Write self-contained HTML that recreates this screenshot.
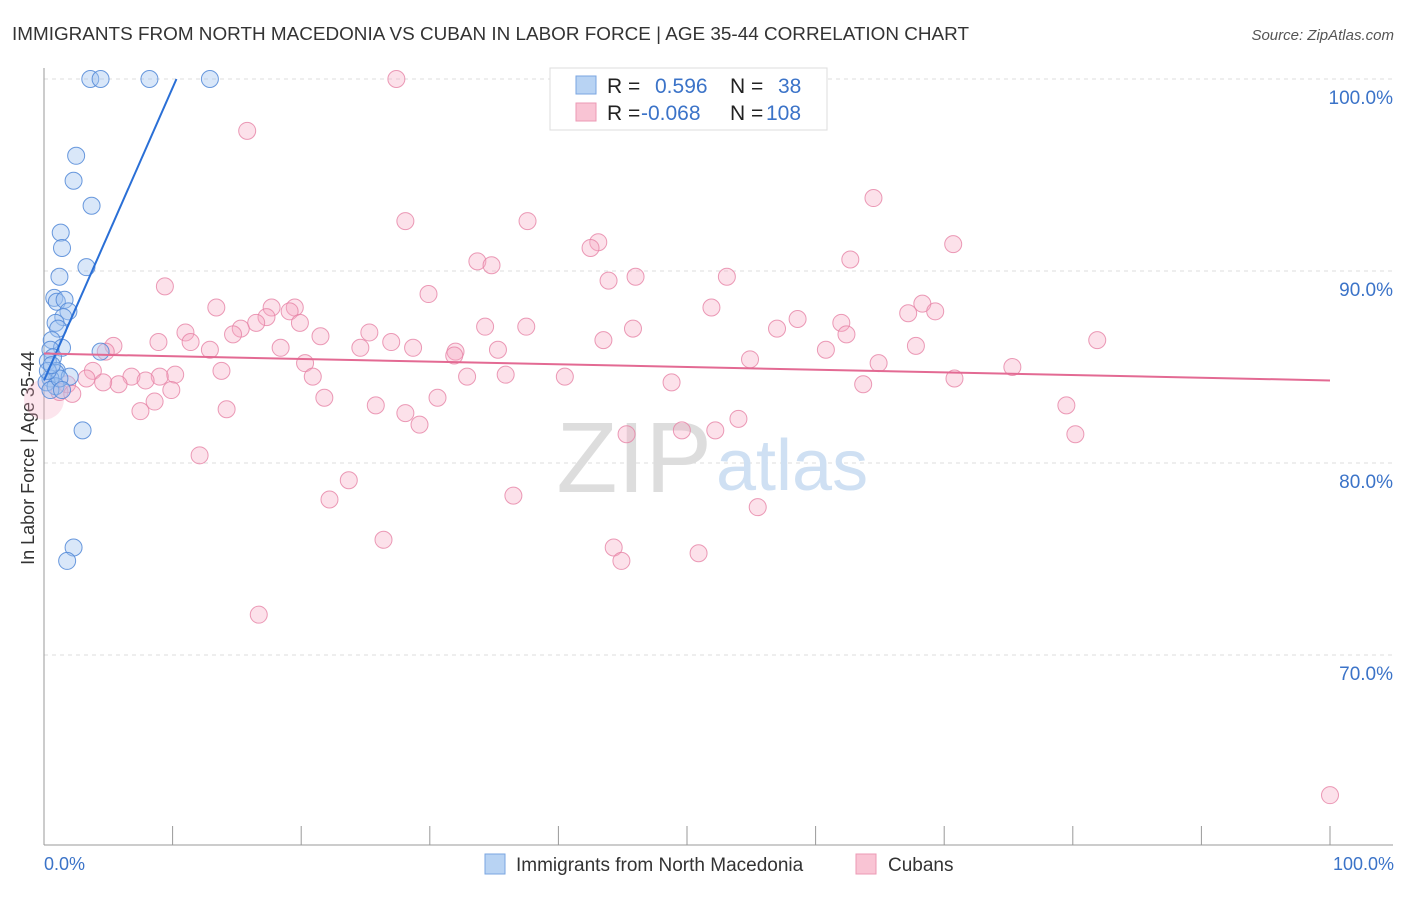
<!DOCTYPE html>
<html><head><meta charset="utf-8"><style>
body{margin:0;background:#fff;font-family:"Liberation Sans",sans-serif;}
svg text{font-family:"Liberation Sans",sans-serif;}
</style></head><body>
<svg id="chart" width="1406" height="892" viewBox="0 0 1406 892">
<text x="12" y="40" font-size="18.5" fill="#333" textLength="957" lengthAdjust="spacingAndGlyphs">IMMIGRANTS FROM NORTH MACEDONIA VS CUBAN IN LABOR FORCE | AGE 35-44 CORRELATION CHART</text>
<text x="1394" y="40" font-size="15" fill="#555" font-style="italic" text-anchor="end">Source: ZipAtlas.com</text>
<g id="grid"></g>
<text x="712" y="492" font-size="100" fill="#ddd" text-anchor="end" font-family="Liberation Serif">ZIP</text>
<text x="716" y="490" font-size="72" fill="#cfe0f3">atlas</text>
<text x="34" y="458" font-size="18" fill="#333" text-anchor="middle" transform="rotate(-90 34 458)">In Labor Force | Age 35-44</text>
<g id="pts"></g>
<g id="lines"></g>
<g>
<rect x="550" y="68" width="277" height="62" fill="#fff" stroke="#ddd"/>
<rect x="576" y="76" width="20" height="18" fill="#b8d3f3" stroke="#7aa6e0"/>
<rect x="576" y="103" width="20" height="18" fill="#f9c4d4" stroke="#ec9ab5"/>
<text x="607" y="93" font-size="21" fill="#222">R =</text>
<text x="655" y="93" font-size="21" fill="#3b73c8">0.596</text>
<text x="730" y="93" font-size="21" fill="#222">N =</text>
<text x="778" y="93" font-size="21" fill="#3b73c8">38</text>
<text x="607" y="120" font-size="21" fill="#222">R =</text>
<text x="641" y="120" font-size="21" fill="#3b73c8">-0.068</text>
<text x="730" y="120" font-size="21" fill="#222">N =</text>
<text x="766" y="120" font-size="21" fill="#3b73c8">108</text>
</g>
<g>
<rect x="485" y="854" width="20" height="20" fill="#b8d3f3" stroke="#7aa6e0"/>
<text x="516" y="871" font-size="19" fill="#333">Immigrants from North Macedonia</text>
<rect x="856" y="854" width="20" height="20" fill="#f9c4d4" stroke="#ec9ab5"/>
<text x="888" y="871" font-size="19" fill="#333">Cubans</text>
</g>
<text x="44" y="870" font-size="18" fill="#3b73c8">0.0%</text>
<text x="1394" y="870" font-size="18" fill="#3b73c8" text-anchor="end">100.0%</text>
</svg>
<script>
const yTicks=[100,90,80,70];
const yTickLabels=["100.0%","90.0%","80.0%","70.0%"];
const xTicks=[0,10,20,30,40,50,60,70,80,90,100];
const blueX=[3.6,4.4,8.2,12.9,2.5,2.3,3.7,1.3,1.4,3.3,1.2,0.8,1.0,1.6,1.9,1.5,0.9,1.1,0.6,4.4,1.4,0.5,0.7,0.3,1.0,0.9,2.0,0.5,0.2,0.9,0.5,2.3,1.8,3.0,1.2,0.3,0.6,1.4];
const blueY=[100,100,100,100,96.0,94.7,93.4,92.0,91.2,90.2,89.7,88.6,88.4,88.5,87.9,87.6,87.3,87.0,86.4,85.8,86.0,85.9,85.5,85.3,84.8,84.7,84.5,84.4,84.2,84.0,83.8,75.6,74.9,81.7,84.4,84.8,85.1,83.8];
const pinkX=[27.4,15.8,64.5,28.1,37.6,43.1,42.5,70.7,33.7,34.8,62.7,53.1,46.0,43.9,9.4,29.9,51.9,13.4,68.3,67.2,69.3,17.7,19.5,19.1,17.3,16.5,58.6,62.0,19.9,34.3,37.5,57.0,45.8,11.0,15.3,14.7,25.3,21.5,62.4,81.9,43.5,8.9,11.4,27.0,5.4,12.9,18.4,24.6,28.7,35.3,60.8,67.8,32.0,4.8,31.9,54.9,20.3,64.9,75.3,13.8,3.8,10.2,35.9,40.5,32.9,20.9,9.0,6.8,5.8,7.9,3.3,4.6,1.8,1.2,2.2,9.9,63.7,70.8,48.8,21.8,30.6,8.6,7.5,14.2,25.8,79.5,28.1,29.2,54.0,45.3,49.6,52.2,80.2,12.1,23.7,36.5,22.2,55.5,26.4,44.3,44.9,50.9,16.7,100];
const pinkY=[100,97.3,93.8,92.6,92.6,91.5,91.2,91.4,90.5,90.3,90.6,89.7,89.7,89.5,89.2,88.8,88.1,88.1,88.3,87.8,87.9,88.1,88.1,87.9,87.6,87.3,87.5,87.3,87.3,87.1,87.1,87.0,87.0,86.8,87.0,86.7,86.8,86.6,86.7,86.4,86.4,86.3,86.3,86.3,86.1,85.9,86.0,86.0,86.0,85.9,85.9,86.1,85.8,85.8,85.6,85.4,85.2,85.2,85.0,84.8,84.8,84.6,84.6,84.5,84.5,84.5,84.5,84.5,84.1,84.3,84.4,84.2,84.1,83.7,83.6,83.8,84.1,84.4,84.2,83.4,83.4,83.2,82.7,82.8,83.0,83.0,82.6,82.0,82.3,81.5,81.7,81.7,81.5,80.4,79.1,78.3,78.1,77.7,76.0,75.6,74.9,75.3,72.1,62.7];
const blueTrend=[[0,84.3],[10.3,100]];
const pinkTrend=[[0,85.7],[100,84.3]];
const NS="http://www.w3.org/2000/svg";
const sx=v=>44+v*12.86, sy=v=>79+(100-v)*19.2;
function mk(t,a,p){const e=document.createElementNS(NS,t);for(const k in a)e.setAttribute(k,a[k]);p.appendChild(e);return e;}
const grid=document.getElementById('grid');
yTicks.forEach((t,i)=>{
 const l=mk('line',{x1:44,x2:1393,y1:sy(t),y2:sy(t),stroke:'#ddd','stroke-dasharray':'4,4'},grid);
 
 
 const tx=mk('text',{x:1393,y:sy(t)+25,'font-size':19,fill:'#3b73c8','text-anchor':'end'},grid);
 tx.textContent=yTickLabels[i];
 
 
});
const ax=mk('line',{x1:44,x2:44,y1:68,y2:845,stroke:'#999'},grid);


const bx=mk('line',{x1:44,x2:1393,y1:845,y2:845,stroke:'#999'},grid);


xTicks.forEach(t=>{
 const l=mk('line',{x1:sx(t),x2:sx(t),y1:826,y2:845,stroke:'#999'},grid);
 
 
});
const pts=document.getElementById('pts');
const big=mk('circle',{cx:sx(0),cy:sy(83.3),r:20,fill:'rgba(245,170,195,0.3)',stroke:'none'},pts);


pinkX.forEach((x,i)=>{
 const c=mk('circle',{cx:sx(x),cy:sy(pinkY[i]),r:8.5,fill:'rgba(245,170,195,0.35)',stroke:'rgba(230,130,165,0.8)','stroke-width':1},pts);
 
 
});
blueX.forEach((x,i)=>{
 const c=mk('circle',{cx:sx(x),cy:sy(blueY[i]),r:8.5,fill:'rgba(160,195,240,0.4)',stroke:'rgba(80,135,215,0.85)','stroke-width':1},pts);
 
 
});
const lines=document.getElementById('lines');
const bl=mk('line',{x1:sx(blueTrend[0][0]),y1:sy(blueTrend[0][1]),x2:sx(blueTrend[1][0]),y2:sy(blueTrend[1][1]),stroke:'#2a6fd6','stroke-width':2},lines);


const pl=mk('line',{x1:sx(pinkTrend[0][0]),y1:sy(pinkTrend[0][1]),x2:sx(pinkTrend[1][0]),y2:sy(pinkTrend[1][1]),stroke:'#e36a93','stroke-width':2},lines);


</script>
</body></html>
